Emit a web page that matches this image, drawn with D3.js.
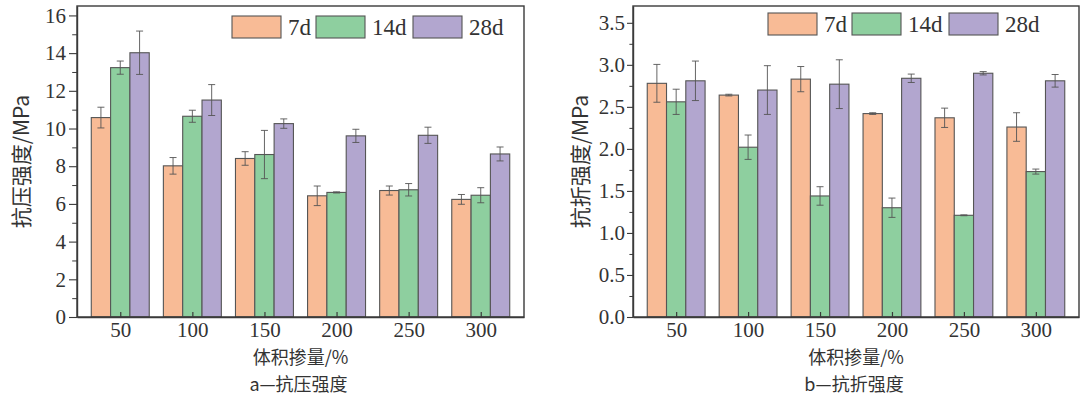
<!DOCTYPE html>
<html>
<head>
<meta charset="utf-8">
<script src="https://cdn.jsdelivr.net/npm/d3@7"></script>
<style>
  html, body { margin: 0; padding: 0; background: #fff; }
  svg { display: block; }
</style>
</head>
<body>
<svg id="chart" width="1083" height="396"></svg>
<script>
// ---------- data ----------
const categories = [50, 100, 150, 200, 250, 300];
const seriesNames = ["7d", "14d", "28d"];
const seriesColors = ["#F8BB96", "#8ECF9F", "#B2A6CF"];

// (a) compressive strength, MPa
const comp7d  = [10.58, 8.02, 8.41, 6.43, 6.71, 6.24];
const comp14d = [13.23, 10.65, 8.62, 6.61, 6.75, 6.46];
const comp28d = [14.02, 11.51, 10.26, 9.61, 9.64, 8.65];
const compErr7d  = [0.55, 0.44, 0.36, 0.52, 0.24, 0.26];
const compErr14d = [0.35, 0.32, 1.28, 0.03, 0.33, 0.40];
const compErr28d = [1.15, 0.82, 0.25, 0.35, 0.43, 0.37];
const compTicks = [0, 2, 4, 6, 8, 10, 12, 14, 16];

// (b) flexural strength, MPa
const flex7d  = [2.78, 2.64, 2.83, 2.42, 2.37, 2.26];
const flex14d = [2.56, 2.02, 1.44, 1.30, 1.21, 1.73];
const flex28d = [2.81, 2.70, 2.77, 2.84, 2.90, 2.81];
const flexErr7d  = [0.225, 0.01, 0.15, 0.01, 0.115, 0.17];
const flexErr14d = [0.15, 0.145, 0.11, 0.115, 0.005, 0.03];
const flexErr28d = [0.235, 0.29, 0.29, 0.05, 0.02, 0.075];
const flexTicks = [0.0, 0.5, 1.0, 1.5, 2.0, 2.5, 3.0, 3.5];

const xTitle = "体积掺量/%";

const panels = [
  {
    left: 77, right: 524, top: 6, bottom: 317,
    yMax: 16.5, ticks: compTicks, minorStep: 1, fmt: d3.format("d"),
    values: [comp7d, comp14d, comp28d], errs: [compErr7d, compErr14d, compErr28d],
    yTitle: "抗压强度/MPa", yTitleX: 22, caption: "a—抗压强度",
    legendX: 155, legendY: 10, tickSize: 8, tickPad: 3
  },
  {
    left: 633, right: 1079, top: 6, bottom: 317,
    yMax: 3.7, ticks: flexTicks, minorStep: 0.25, fmt: d3.format(".1f"),
    values: [flex7d, flex14d, flex28d], errs: [flexErr7d, flexErr14d, flexErr28d],
    yTitle: "抗折强度/MPa", yTitleX: 581, caption: "b—抗折强度",
    legendX: 135, legendY: 7, tickSize: 6, tickPad: 2
  }
];

const svg = d3.select("#chart");
const numFont = "'Liberation Serif', 'Times New Roman', serif";
const cjkFont = "'Noto Sans CJK SC', 'Liberation Serif', serif";
const axisColor = "#3a3a3a";
const barStroke = "#555";

panels.forEach(p => {
  const x = d3.scaleLinear().domain([20, 330]).range([p.left, p.right]);
  const y = d3.scaleLinear().domain([0, p.yMax]).range([p.bottom, p.top]);
  const barUnits = 13.4;
  const bw = x(20 + barUnits) - x(20);
  const g = svg.append("g");

  // bars
  seriesNames.forEach((s, si) => {
    const offset = (si - 1) * barUnits;
    g.append("g").selectAll("rect")
      .data(categories.map((c, i) => ({ c, v: p.values[si][i], e: p.errs[si][i] })))
      .join("rect")
      .attr("x", d => x(d.c + offset) - bw / 2)
      .attr("y", d => y(d.v))
      .attr("width", bw)
      .attr("height", d => y(0) - y(d.v))
      .attr("fill", seriesColors[si])
      .attr("stroke", barStroke)
      .attr("stroke-width", 1.1);
  });

  // error bars
  seriesNames.forEach((s, si) => {
    const offset = (si - 1) * barUnits;
    const eg = g.append("g").attr("stroke", "#555").attr("stroke-width", 0.9).attr("fill", "none");
    categories.forEach((c, i) => {
      const cx = x(c + offset);
      const v = p.values[si][i], e = p.errs[si][i];
      eg.append("line").attr("x1", cx).attr("x2", cx).attr("y1", y(v - e)).attr("y2", y(v + e));
      [v - e, v + e].forEach(t => {
        eg.append("line").attr("x1", cx - 3.5).attr("x2", cx + 3.5).attr("y1", y(t)).attr("y2", y(t));
      });
    });
  });

  // frame
  g.append("rect")
    .attr("x", p.left).attr("y", p.top)
    .attr("width", p.right - p.left).attr("height", p.bottom - p.top)
    .attr("fill", "none").attr("stroke", axisColor).attr("stroke-width", 1.4);

  // y axis (major)
  const yAxis = g.append("g").attr("transform", `translate(${p.left},0)`)
    .call(d3.axisLeft(y).tickValues(p.ticks).tickFormat(p.fmt)
      .tickSizeInner(p.tickSize).tickSizeOuter(0).tickPadding(p.tickPad));
  yAxis.select(".domain").attr("stroke", axisColor).attr("stroke-width", 1.4);
  yAxis.selectAll(".tick line").attr("stroke", axisColor).attr("stroke-width", 1.1);
  yAxis.selectAll("text").attr("font-family", numFont).attr("font-size", 21).attr("fill", "#333");

  // y axis (minor)
  const minor = d3.range(0, p.yMax + 1e-9, p.minorStep).filter(v => !p.ticks.some(t => Math.abs(t - v) < 1e-9));
  const yMinor = g.append("g").attr("transform", `translate(${p.left},0)`)
    .call(d3.axisLeft(y).tickValues(minor).tickFormat("").tickSizeInner(p.tickSize * 0.6).tickSizeOuter(0));
  yMinor.select(".domain").remove();
  yMinor.selectAll(".tick line").attr("stroke", axisColor).attr("stroke-width", 1);

  // x axis
  const xAxis = g.append("g").attr("transform", `translate(0,${p.bottom})`)
    .call(d3.axisBottom(x).tickValues(categories).tickFormat(d3.format("d"))
      .tickSizeInner(-5).tickSizeOuter(0).tickPadding(5));
  xAxis.select(".domain").attr("stroke", axisColor).attr("stroke-width", 1.4);
  xAxis.selectAll(".tick line").attr("stroke", axisColor).attr("stroke-width", 1.2);
  xAxis.selectAll("text").attr("font-family", numFont).attr("font-size", 21).attr("fill", "#333");

  const cx = (p.left + p.right) / 2;
  // x title
  g.append("text").attr("x", cx).attr("y", 364).attr("text-anchor", "middle")
    .attr("font-family", cjkFont).attr("font-size", 18).attr("fill", "#333").text(xTitle);
  // caption
  g.append("text").attr("x", cx - 2).attr("y", 391).attr("text-anchor", "middle")
    .attr("font-family", cjkFont).attr("font-size", 18).attr("fill", "#333").text(p.caption);
  // y title
  g.append("text")
    .attr("transform", `translate(${p.yTitleX + 7},${(p.top + p.bottom) / 2}) rotate(-90)`)
    .attr("text-anchor", "middle")
    .attr("font-family", cjkFont).attr("font-size", 21).attr("fill", "#333").text(p.yTitle);

  // legend
  const legendOffsets = [0, 84, 181];
  const lg = g.append("g").attr("transform", `translate(${p.left + p.legendX},${p.top + p.legendY})`);
  seriesNames.forEach((s, si) => {
    const it = lg.append("g").attr("transform", `translate(${legendOffsets[si]},0)`);
    it.append("rect").attr("width", 49).attr("height", 22)
      .attr("fill", seriesColors[si]).attr("stroke", barStroke).attr("stroke-width", 1.1);
    it.append("text").attr("x", 56).attr("y", 11).attr("dy", "0.35em")
      .attr("font-family", numFont).attr("font-size", 23).attr("fill", "#333").text(s);
  });
});
</script>
</body>
</html>
